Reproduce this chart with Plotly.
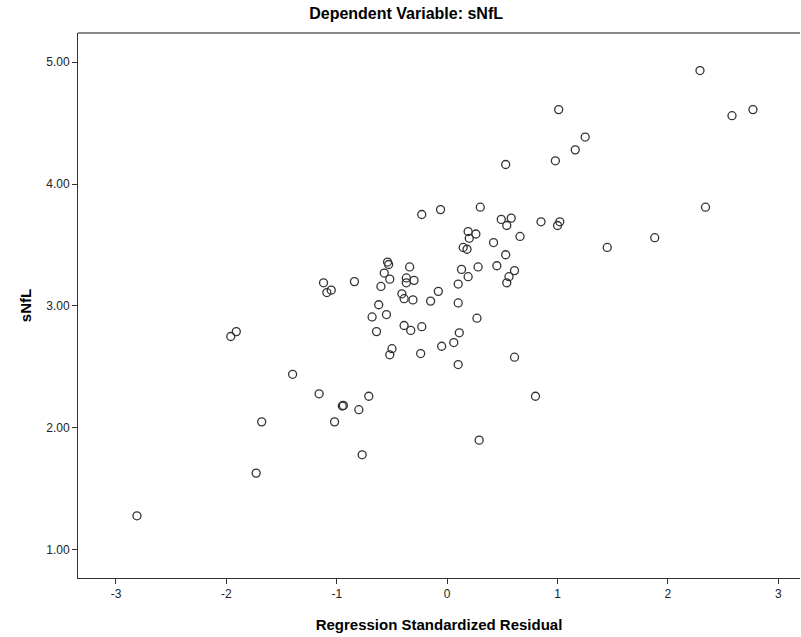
import plotly.graph_objects as go

# Regression standardized residual (x) vs sNfL (y)
resid = [2.29, 1.01, 2.58, 2.77, 2.34, 1.88, 1.45, 1.25, 1.16, 0.98,
         0.53, -0.23, -0.06, 0.30, 0.49, 0.58, 0.54, 0.85, 1.02, 1.00,
         0.19, 0.26, 0.20, 0.66, 0.42, 0.145, 0.18, 0.53, 0.13, 0.28,
         0.45, 0.19, 0.61, 0.56, 0.54, 0.10, -0.08, -0.15, 0.10, 0.27,
         -0.23, 0.11, 0.06, -0.05, -0.24, 0.10, 0.61, 0.80, 0.29, -0.54,
         -0.53, -0.34, -0.57, -0.52, -0.37, -0.30, -0.37, -1.12, -1.05, -1.09,
         -0.84, -0.60, -0.41, -0.39, -0.31, -0.62, -0.68, -0.55, -0.64, -0.39,
         -0.33, -1.96, -1.91, -0.50, -0.52, -1.40, -1.16, -0.95, -0.94, -0.80,
         -0.71, -1.68, -1.02, -0.77, -2.81, -1.73]
snfl = [4.93, 4.61, 4.56, 4.61, 3.81, 3.56, 3.48, 4.385, 4.28, 4.19,
        4.16, 3.75, 3.79, 3.81, 3.71, 3.72, 3.66, 3.69, 3.69, 3.66,
        3.61, 3.59, 3.555, 3.57, 3.52, 3.48, 3.465, 3.42, 3.30, 3.32,
        3.33, 3.24, 3.29, 3.24, 3.19, 3.18, 3.12, 3.04, 3.025, 2.90,
        2.83, 2.78, 2.70, 2.67, 2.61, 2.52, 2.58, 2.26, 1.90, 3.36,
        3.34, 3.32, 3.27, 3.22, 3.23, 3.21, 3.19, 3.19, 3.13, 3.11,
        3.20, 3.16, 3.10, 3.06, 3.05, 3.01, 2.91, 2.93, 2.79, 2.84,
        2.80, 2.75, 2.79, 2.65, 2.60, 2.44, 2.28, 2.18, 2.185, 2.15,
        2.26, 2.05, 2.05, 1.78, 1.28, 1.63]

x_ticks = [-3, -2, -1, 0, 1, 2, 3]
x_tick_text = ["-3", "-2", "-1", "0", "1", "2", "3"]
y_ticks = [1, 2, 3, 4, 5]
y_tick_text = ["1.00", "2.00", "3.00", "4.00", "5.00"]

FONT = "Liberation Sans, Arial, sans-serif"

fig = go.Figure(go.Scatter(
    x=resid, y=snfl, mode="markers",
    marker=dict(symbol="circle-open", size=8, color="#333333",
                line=dict(width=1.3, color="#333333")),
    hoverinfo="x+y", showlegend=False,
))

fig.update_layout(
    template="none",
    width=801, height=637,
    margin=dict(l=78, r=1, t=33, b=59, pad=0),
    paper_bgcolor="white", plot_bgcolor="white",
    font=dict(family=FONT, color="#000000"),
    title=dict(text="<b>Dependent Variable: sNfL</b>", x=0.507, xref="container",
               xanchor="center", y=1 - 13 / 637, yref="container", yanchor="middle",
               font=dict(size=16, family=FONT, color="#000000")),
    xaxis=dict(range=[-3.344, 3.196], tickmode="array", tickvals=x_ticks,
               ticktext=x_tick_text, ticks="outside", ticklen=5, tickwidth=1,
               tickcolor="#333333", showline=True, linecolor="#333333", linewidth=1,
               showgrid=False, zeroline=False, automargin=False,
               tickfont=dict(size=12, family=FONT, color="#222222"),
               title=dict(text="<b>Regression Standardized Residual</b>",
                          font=dict(size=15, family=FONT, color="#000000"), standoff=19)),
    yaxis=dict(range=[0.770, 5.238], tickmode="array", tickvals=y_ticks,
               ticktext=y_tick_text, ticks="outside", ticklen=5, tickwidth=1,
               tickcolor="#333333", showline=True, linecolor="#333333", linewidth=1,
               showgrid=False, zeroline=False, automargin=False,
               tickfont=dict(size=12, family=FONT, color="#222222"),
               title=dict(text="<b>sNfL</b>",
                          font=dict(size=15, family=FONT, color="#000000"), standoff=10)),
    shapes=[dict(type="line", xref="paper", yref="paper", x0=0, x1=1, y0=1, y1=1,
                 line=dict(color="#888888", width=2))],
)

fig.write_html(
    "out.html",
    config={"displayModeBar": False},
    post_script="document.body.style.margin='0';document.body.style.overflow='hidden';",
)
